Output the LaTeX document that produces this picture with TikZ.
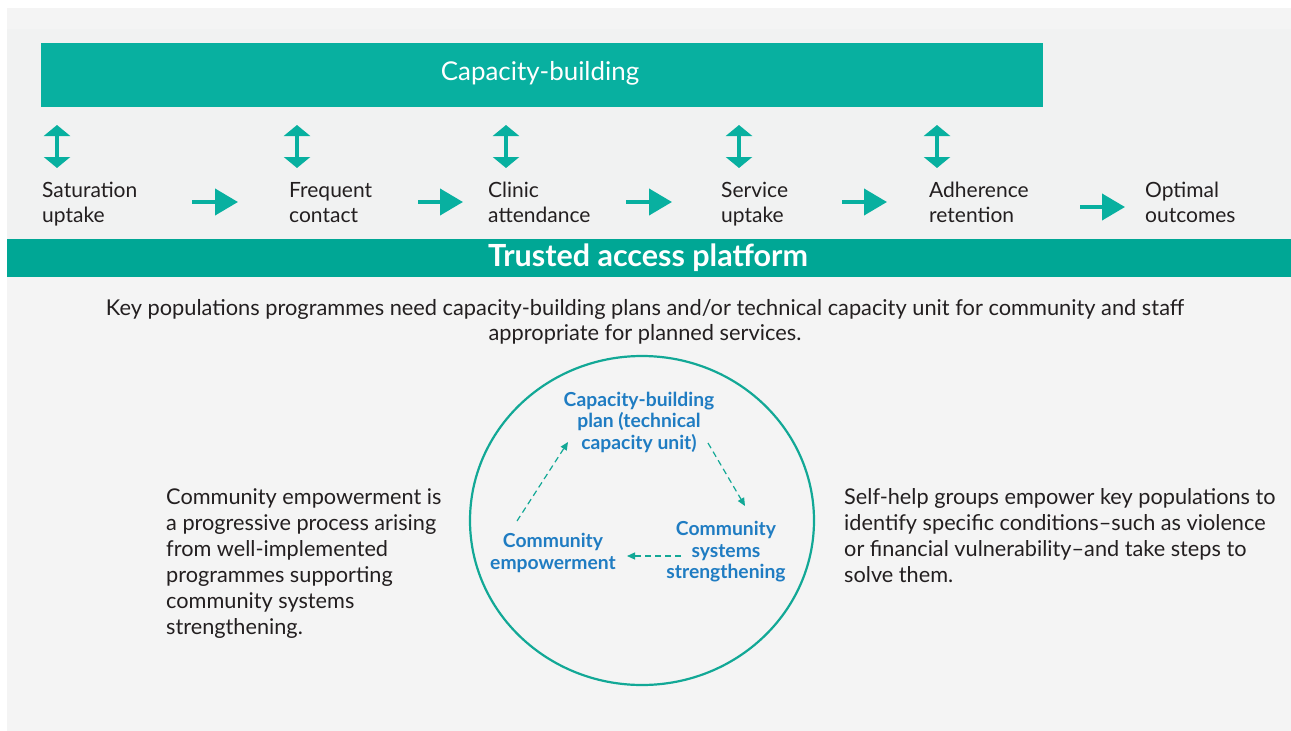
\documentclass[tikz,border=0pt]{standalone}
\usepackage{fontspec}
\setmainfont{Lato}
\usetikzlibrary{arrows.meta}

\definecolor{barteal}{HTML}{08B0A0}
\definecolor{platteal}{HTML}{00A795}
\definecolor{ringteal}{HTML}{12A896}
\definecolor{cycleblue}{HTML}{1F7CC2}
\definecolor{ink}{HTML}{231F20}
\definecolor{panel}{HTML}{F4F4F4}
\definecolor{panelband}{HTML}{F1F2F2}

\tikzset{
  steplabel/.style={anchor=north west, align=left, text=ink, inner sep=0pt,
    font=\fontsize{21}{25}\selectfont},
  sidetext/.style={anchor=north west, align=left, text=ink, inner sep=0pt,
    font=\fontsize{21.7}{26}\selectfont},
  cycletext/.style={align=center, text=cycleblue, inner sep=0pt,
    font=\bfseries\fontsize{19.3}{21.5}\selectfont},
  flowarrow/.style={barteal, line width=4pt, -{Triangle[width=26pt,length=23pt]}},
  linkarrow/.style={barteal, line width=4pt,
    {Triangle[width=26pt,length=11pt]}-{Triangle[width=26pt,length=11pt]}},
  cyclearrow/.style={ringteal, line width=1.2pt, dash pattern=on 6pt off 4pt,
    -{Triangle[width=7pt,length=8pt]}},
}

\begin{document}
\begin{tikzpicture}[x=1pt,y=-1pt]
\useasboundingbox (0,0) rectangle (1291,731);
\fill[white] (0,0) rectangle (1291,731);
\fill[panel] (7,8) rectangle (1291,731);
\fill[panelband] (7,29) rectangle (1291,239);

% top bar
\fill[barteal] (41,43) rectangle (1043,107);
\node (capbar) [text=white, font=\fontsize{25.9}{28}\selectfont] at (540,73) {Capacity-building};

% steps
\node (sat) [steplabel] at (42,182) {Saturation\\uptake};
\node (freq) [steplabel] at (289,182) {Frequent\\contact};
\node (clin) [steplabel] at (488,182) {Clinic\\attendance};
\node (serv) [steplabel] at (721,182) {Service\\uptake};
\node (adh) [steplabel] at (929,182) {Adherence\\retention};
\node (opt) [steplabel] at (1145,182) {Optimal\\outcomes};

\foreach \x/\i in {57/1,297/2,506/3,739/4,937/5}{
  \coordinate (lt\i) at (\x,125);
  \coordinate (lb\i) at (\x,168);
  \draw[linkarrow] (lt\i) -- (lb\i);
}

\foreach \a/\b/\y/\i in {192/238/202/1,418/463/202/2,626/672/202/3,842/887/202/4,1080/1125/207/5}{
  \coordinate (fa\i) at (\a,\y);
  \coordinate (fb\i) at (\b,\y);
  \draw[flowarrow] (fa\i) -- (fb\i);
}

% platform bar
\fill[platteal] (7,239) rectangle (1291,277);
\node (platform) [text=white, font=\bfseries\fontsize{30.5}{32}\selectfont] at (648,258) {Trusted access platform};

\node (need) [align=center, text=ink, inner sep=0pt, font=\fontsize{21.8}{25}\selectfont] at (645,322)
  {Key populations programmes need capacity-building plans and/or technical capacity unit for community and staff\\
   appropriate for planned services.};

% cycle
\draw[ringteal, line width=2.2pt] (642,520.5) ellipse [x radius=172pt, y radius=164.5pt];

\node (cbplan) [cycletext] at (639,422) {Capacity-building\\plan (technical\\capacity unit)};
\node (css) [cycletext] at (726,552) {Community\\systems\\strengthening};
\node (cemp) [cycletext] at (553,553) {Community\\empowerment};

\draw[cyclearrow] ([shift={(-36,-32)}]cemp.center) -- ([shift={(-71,20)}]cbplan.center);
\draw[cyclearrow] ([shift={(69,21)}]cbplan.center) -- ([shift={(19,-46)}]css.center);
\draw[cyclearrow] ([shift={(-45,4)}]css.center) -- ([shift={(74,3)}]cemp.center);

% side texts
\node (lefttext) [sidetext] at (166,488) {Community empowerment is\\a progressive process arising\\from well-implemented\\programmes supporting\\community systems\\strengthening.};
\node (righttext) [sidetext] at (844,488) {Self-help groups empower key populations to\\identify specific conditions–such as violence\\or financial vulnerability–and take steps to\\solve them.};
\end{tikzpicture}
\end{document}
